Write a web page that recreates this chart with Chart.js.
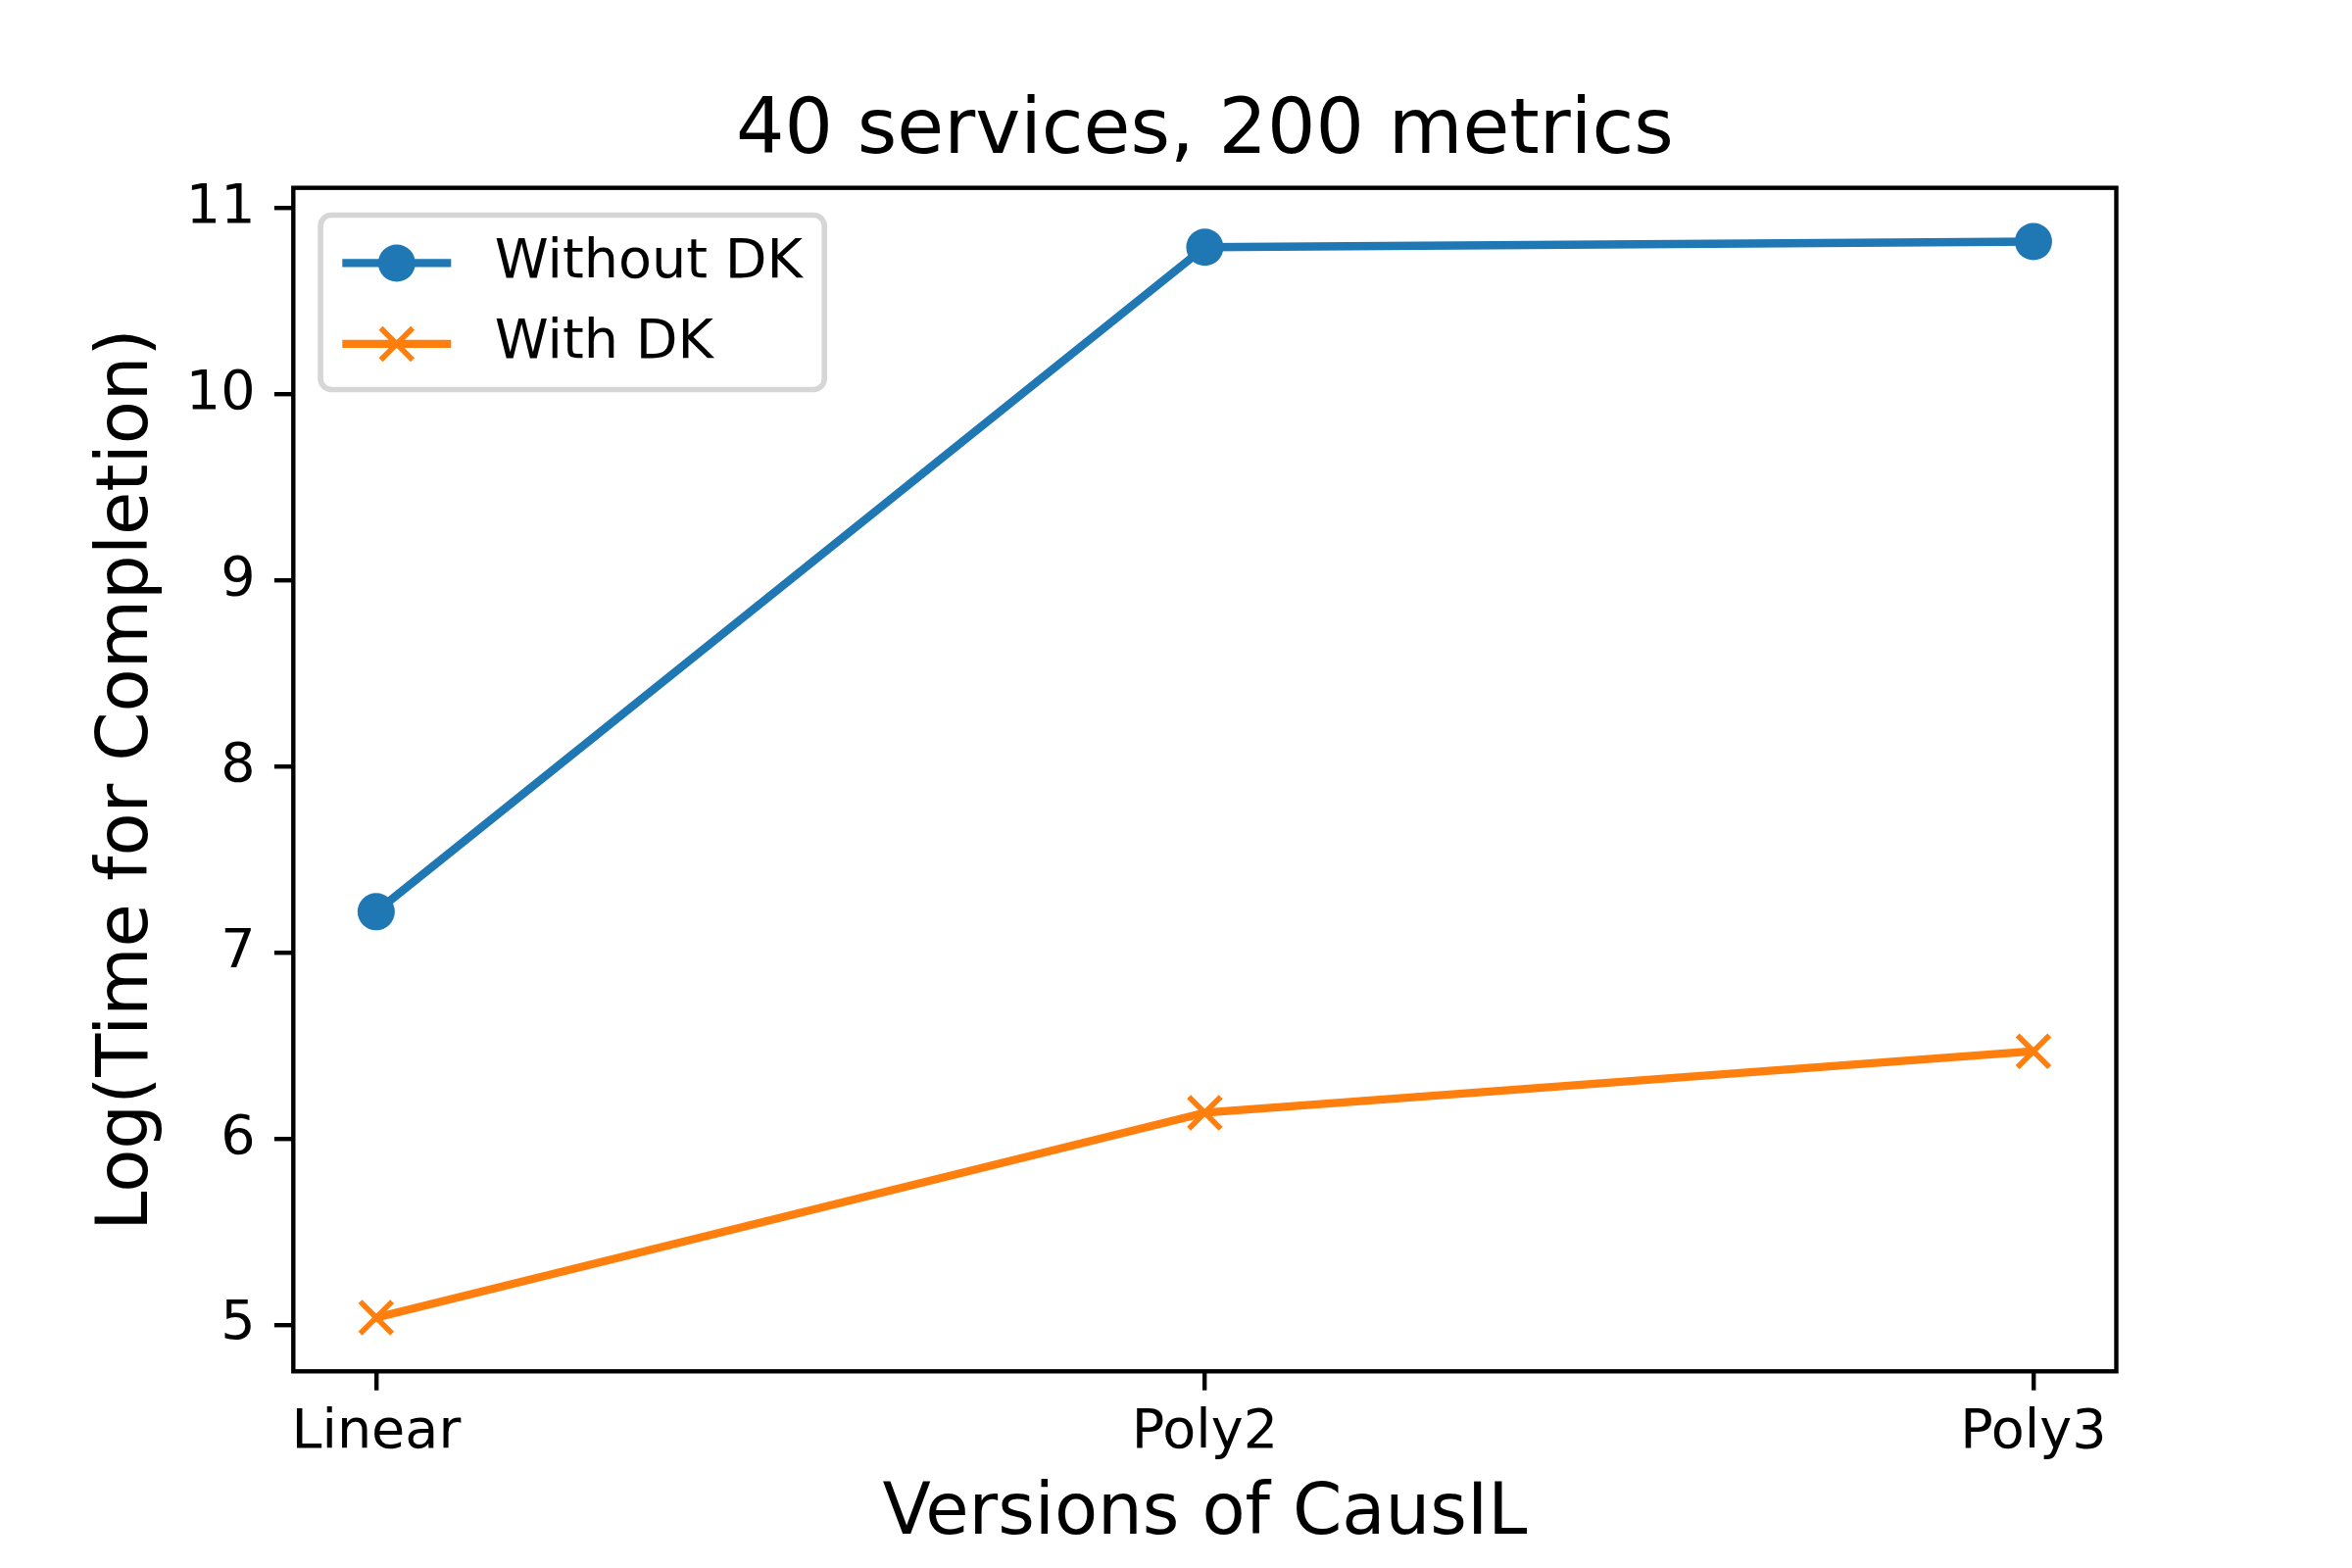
<!DOCTYPE html>
<html>
<head>
<meta charset="utf-8">
<script src="https://cdn.jsdelivr.net/npm/chart.js@4.4.1/dist/chart.umd.min.js"></script>
<style>
  html, body { margin: 0; padding: 0; background: #fff; }
  #wrap { width: 2400px; height: 1600px; }
</style>
</head>
<body>
<div id="wrap"><canvas id="timeChart" width="2400" height="1600"></canvas></div>
<script>
// values
const categories = ['Linear', 'Poly2', 'Poly3'];
const withoutDK = [7.22, 10.79, 10.82];
const withDK = [5.04, 6.14, 6.47];
const yTicks = [5, 6, 7, 8, 9, 10, 11];
const seriesNames = ['Without DK', 'With DK'];

const FONT = "'DejaVu Sans', sans-serif";
const blue = '#1f77b4';
const orange = '#ff7f0e';

// matplotlib-like 5% margins around the data
const allValues = withoutDK.concat(withDK);
const yLo = Math.min(...allValues);
const yHi = Math.max(...allValues);
const yPad = (yHi - yLo) * 0.05;
const xPad = (categories.length - 1) * 0.05;

function toPoints(values) {
    return values.map((v, i) => ({x: i, y: v}));
}

// black box round the plot area
const framePlugin = {
    id: 'frame',
    afterDatasetsDraw(chart) {
        const {ctx, chartArea: a} = chart;
        ctx.save();
        ctx.strokeStyle = '#000';
        ctx.lineWidth = 4.4;
        ctx.strokeRect(a.left, a.top, a.right - a.left, a.bottom - a.top);
        ctx.restore();
    }
};

// legend inside the axes, upper left
const innerLegend = {
    id: 'innerLegend',
    afterDraw(chart) {
        const {ctx, chartArea: a} = chart;
        const fs = 55.6;
        const x0 = a.left + 27.8;
        const y0 = a.top + 27.8;
        ctx.save();
        ctx.font = fs + 'px ' + FONT;
        const textW = Math.max(...chart.data.datasets.map(d => ctx.measureText(d.label).width));
        const w = 22.2 + 111 + 44.5 + textW + 22.2;
        const h = 178;
        ctx.beginPath();
        ctx.roundRect(x0, y0, w, h, 11);
        ctx.fillStyle = 'rgba(255,255,255,0.8)';
        ctx.fill();
        ctx.strokeStyle = 'rgba(204,204,204,0.8)';
        ctx.lineWidth = 5.6;
        ctx.stroke();

        chart.data.datasets.forEach((d, i) => {
            const cy = y0 + 49 + i * 82.5;
            const hx = x0 + 22.2;
            ctx.strokeStyle = d.borderColor;
            ctx.lineWidth = d.borderWidth;
            ctx.lineCap = 'butt';
            ctx.beginPath();
            ctx.moveTo(hx, cy);
            ctx.lineTo(hx + 111, cy);
            ctx.stroke();

            ctx.fillStyle = d.pointBackgroundColor;
            ctx.strokeStyle = d.pointBorderColor;
            ctx.lineWidth = d.pointBorderWidth;
            Chart.helpers.drawPoint(ctx, {
                pointStyle: d.pointStyle,
                radius: d.pointRadius,
                borderWidth: d.pointBorderWidth,
                rotation: 0
            }, hx + 55.5, cy);

            ctx.fillStyle = '#000';
            ctx.textBaseline = 'middle';
            ctx.textAlign = 'left';
            ctx.fillText(d.label, hx + 111 + 44.5, cy);
        });
        ctx.restore();
    }
};

const tickGrid = {
    drawOnChartArea: false,
    drawTicks: true,
    tickLength: 19.4,
    tickWidth: 4.4,
    tickColor: '#000',
    color: '#000',
    lineWidth: 4.4
};

new Chart(document.getElementById('timeChart'), {
    type: 'line',
    data: {
        datasets: [
            {
                label: seriesNames[0],
                data: toPoints(withoutDK),
                borderColor: blue,
                backgroundColor: blue,
                borderWidth: 8.3,
                borderJoinStyle: 'round',
                borderCapStyle: 'square',
                tension: 0,
                pointStyle: 'circle',
                pointRadius: 19,
                pointHoverRadius: 19,
                pointBackgroundColor: blue,
                pointBorderColor: blue,
                pointBorderWidth: 0
            },
            {
                label: seriesNames[1],
                data: toPoints(withDK),
                borderColor: orange,
                backgroundColor: orange,
                borderWidth: 8.3,
                borderJoinStyle: 'round',
                borderCapStyle: 'square',
                tension: 0,
                pointStyle: 'crossRot',
                pointRadius: 23,
                pointHoverRadius: 23,
                pointBackgroundColor: orange,
                pointBorderColor: orange,
                pointBorderWidth: 5.6
            }
        ]
    },
    options: {
        responsive: false,
        animation: false,
        devicePixelRatio: 1,
        layout: {
            padding: {left: 0, top: 89.3, right: 240.5, bottom: 0}
        },
        plugins: {
            legend: {display: false},
            tooltip: {enabled: false},
            title: {
                display: true,
                text: '40 services, 200 metrics',
                color: '#000',
                fullSize: false,
                font: {family: FONT, size: 77.8, weight: 'normal', lineHeight: 1.2},
                padding: {top: 0, bottom: 9}
            }
        },
        scales: {
            x: {
                type: 'linear',
                min: -xPad,
                max: categories.length - 1 + xPad,
                afterBuildTicks: s => { s.ticks = categories.map((c, i) => ({value: i})); },
                afterFit: s => { s.height = 200.7; },
                ticks: {
                    callback: v => categories[v],
                    color: '#000',
                    font: {family: FONT, size: 55.6},
                    padding: 10,
                    maxRotation: 0,
                    autoSkip: false
                },
                grid: tickGrid,
                border: {display: false},
                title: {
                    display: true,
                    text: 'Versions of CausIL',
                    color: '#000',
                    font: {family: FONT, size: 72.2, lineHeight: 1.2},
                    padding: {top: 0, bottom: 10.7}
                }
            },
            y: {
                type: 'linear',
                min: yLo - yPad,
                max: yHi + yPad,
                afterBuildTicks: s => { s.ticks = yTicks.map(v => ({value: v})); },
                afterFit: s => { s.width = 299.3; },
                ticks: {
                    color: '#000',
                    font: {family: FONT, size: 55.6},
                    padding: 19.4
                },
                grid: tickGrid,
                border: {display: false},
                title: {
                    display: true,
                    text: 'Log(Time for Completion)',
                    color: '#000',
                    font: {family: FONT, size: 72.2, lineHeight: 1.2},
                    padding: {top: 88.2, bottom: 0}
                }
            }
        }
    },
    plugins: [framePlugin, innerLegend]
});
</script>
</body>
</html>
